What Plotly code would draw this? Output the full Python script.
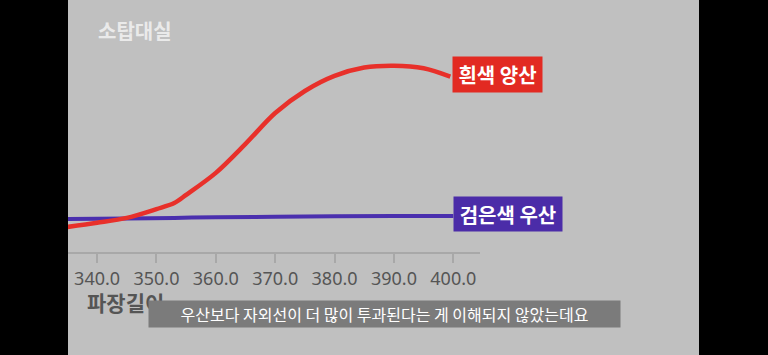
import plotly.graph_objects as go

# Data (wavelength in nm, relative transmission in arbitrary units)
wavelength_white = [335, 340, 345, 350, 353, 355, 360, 365, 370, 375, 380, 385, 390, 395, 399.5]
white_parasol = [10.8, 12.6, 14.7, 18.5, 21.1, 24.6, 34.1, 46.6, 59.9, 69.4, 75.9, 79.5, 80.3, 79.2, 75.6]

wavelength_black = [335, 345, 353, 360, 370, 380, 390, 400]
black_umbrella = [14.2, 14.4, 14.7, 15.0, 15.2, 15.4, 15.5, 15.5]

tick_values = [340, 350, 360, 370, 380, 390, 400]

W, H = 768, 355
L, R, T, B = 68, 288, 20, 103
PW = W - L - R
PH = H - T - B

def px(x):
    return (x - L) / PW

def py(y):
    return (H - B - y) / PH

fig = go.Figure()
fig.add_trace(go.Scatter(x=wavelength_black, y=black_umbrella, mode="lines",
                         line=dict(color="#4a2fae", width=4, shape="spline"), showlegend=False))
fig.add_trace(go.Scatter(x=wavelength_white, y=white_parasol, mode="lines",
                         line=dict(color="#e8302a", width=4.5, shape="spline", smoothing=0.9),
                         showlegend=False))

fig.update_layout(
    width=W, height=H,
    margin=dict(l=L, r=R, t=T, b=B, pad=0),
    paper_bgcolor="black",
    plot_bgcolor="#c0c0c0",
    showlegend=False,
    xaxis=dict(range=[335.1, 404.5], tickvals=tick_values, tickformat=".1f",
               showline=True, linecolor="#a8a8a8", linewidth=2,
               ticks="outside", ticklen=9, tickwidth=1.5, tickcolor="#a8a8a8",
               showgrid=False, zeroline=False,
               tickfont=dict(family="Noto Sans, Roboto, sans-serif", size=18, color="#555555")),
    yaxis=dict(range=[0, 100], visible=False, fixedrange=True),
    shapes=[dict(type="rect", xref="paper", yref="paper",
                 x0=px(68), x1=px(699), y0=py(355), y1=py(0),
                 fillcolor="#c0c0c0", line=dict(width=0), layer="below")],
)

kr = "Noto Sans CJK KR, sans-serif"
annos = [
    dict(text="<b>소탑대실</b>", x=px(135), y=py(30), font=dict(family=kr, size=20, color="rgba(240,240,240,0.9)")),
    dict(text="<b>흰색 양산</b>", x=px(497.5), y=py(74.5), width=89, height=35,
         bgcolor="#e22a22", font=dict(family=kr, size=20, color="white")),
    dict(text="<b>검은색 우산</b>", x=px(508), y=py(214), width=108, height=34,
         bgcolor="#4b2ca8", font=dict(family=kr, size=20, color="white")),
    dict(text="<b>파장길이</b>", x=px(125), y=py(302), font=dict(family=kr, size=21, color="#555555")),
    dict(text="우산보다 자외선이 더 많이 투과된다는 게 이해되지 않았는데요", x=px(384.5), y=py(314),
         width=471, height=26, bgcolor="#7b7b7b", font=dict(family=kr, size=16, color="white")),
]
for a in annos:
    fig.add_annotation(xref="paper", yref="paper", showarrow=False, borderpad=0,
                       xanchor="center", yanchor="middle", **a)

fig.write_html("out.html", config={"displayModeBar": False},
               post_script="document.body.style.margin='0';")
